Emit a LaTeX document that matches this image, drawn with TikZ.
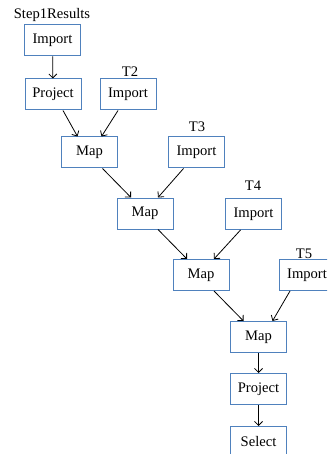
\documentclass[tikz,border=0pt]{standalone}
\usepackage{fontspec}
\setmainfont{Liberation Serif}
\usetikzlibrary{arrows.meta}
\definecolor{opblue}{HTML}{4F81BD}
\begin{document}
\begin{tikzpicture}[x=1pt,y=-1pt,
  op/.style={draw=opblue, line width=1pt, minimum width=56pt, minimum height=31pt,
    inner sep=0pt, font=\fontsize{14.6}{17}\selectfont},
  ttl/.style={inner sep=0pt, anchor=base, font=\fontsize{14.6}{17}\selectfont},
  flow/.style={line width=0.8pt, -{Straight Barb[length=4pt,width=8pt]}}]
\useasboundingbox (0,0) rectangle (327,454);
\clip (0,0) rectangle (327,454);

% operator boxes
\node[op] (imp1)  at (52.5,40.5) {Import};
\node[op] (proj1) at (53,94.5)   {Project};
\node[op] (imp2)  at (128,94.5)  {Import};
\node[op] (map1)  at (89.5,152.5) {Map};
\node[op] (imp3)  at (196.5,152.5) {Import};
\node[op] (map2)  at (145,213.5) {Map};
\node[op] (imp4)  at (253.5,214) {Import};
\node[op] (map3)  at (201,275)   {Map};
\node[op] (imp5)  at (307,275)   {Import};
\node[op] (map4)  at (258.5,337) {Map};
\node[op] (proj2) at (258.5,389) {Project};
\node[op] (sel)   at (258.5,442) {Select};

% table names
\node[ttl] (t1) at (52,19)   {Step1Results};
\node[ttl] (t2) at (130,77)  {T2};
\node[ttl] (t3) at (197,132) {T3};
\node[ttl] (t4) at (253,190) {T4};
\node[ttl] (t5) at (304,258) {T5};

% data flow
\draw[flow] (imp1) -- (proj1);
\draw[flow] ([xshift=10pt]proj1.south) -- ([xshift=-12pt]map1.north);
\draw[flow] ([xshift=-10pt]imp2.south) -- ([xshift=12pt]map1.north);
\draw[flow] ([xshift=13pt]map1.south) -- ([xshift=-14pt]map2.north);
\draw[flow] ([xshift=-13pt]imp3.south) -- ([xshift=13pt]map2.north);
\draw[flow] ([xshift=13pt]map2.south) -- ([xshift=-14pt]map3.north);
\draw[flow] ([xshift=-13pt]imp4.south) -- ([xshift=13pt]map3.north);
\draw[flow] ([xshift=13pt]map3.south) -- ([xshift=-15pt]map4.north);
\draw[flow] ([xshift=-17pt]imp5.south) -- ([xshift=14pt]map4.north);
\draw[flow] (map4) -- (proj2);
\draw[flow] (proj2) -- (sel);
\end{tikzpicture}
\end{document}
